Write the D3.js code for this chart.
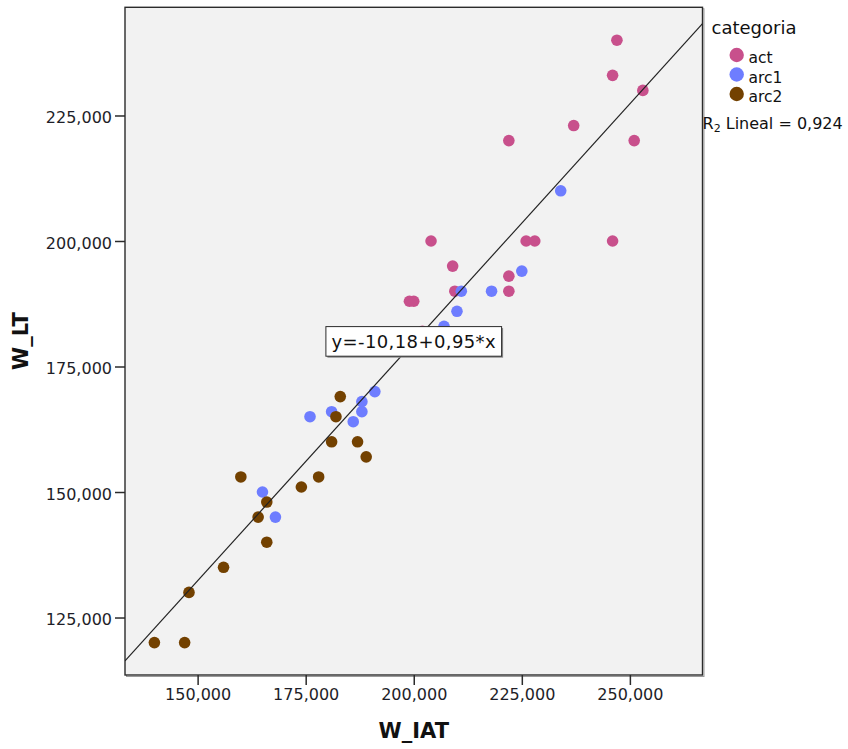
<!DOCTYPE html>
<html>
<head>
<meta charset="utf-8">
<script src="https://cdn.jsdelivr.net/npm/d3@7"></script>
<style>
  html, body { margin: 0; padding: 0; background: #ffffff; }
  svg { display: block; font-family: "DejaVu Sans", Verdana, sans-serif; }
</style>
</head>
<body>
<svg id="chart" width="848" height="749"></svg>
<script>
// ---- data (values in thousands, as shown with decimal comma) ----
const categories = ["act", "arc1", "arc2"];
const categoryColors = ["#c8508c", "#6e7dff", "#734100"];

const actIAT = [247, 246, 253, 237, 222, 251, 204, 226, 228, 246, 209, 222, 209.5, 222, 199, 200, 202];
const actLT  = [240, 233, 230, 223, 220, 220, 200, 200, 200, 200, 195, 193, 190, 190, 188, 188, 182];

const arc1IAT = [234, 225, 211, 218, 210, 207, 191, 188, 188, 181, 176, 186, 165, 168];
const arc1LT  = [210, 194, 190, 190, 186, 183, 170, 168, 166, 166, 165, 164, 150, 145];

const arc2IAT = [183, 182, 181, 187, 189, 160, 178, 174, 166, 164, 166, 156, 148, 140, 147];
const arc2LT  = [169, 165, 160, 160, 157, 153, 153, 151, 148, 145, 140, 135, 130, 120, 120];

const xTicks = [150, 175, 200, 225, 250];
const yTicks = [125, 150, 175, 200, 225];
const xTitle = "W_IAT";
const yTitle = "W_LT";
const legendTitle = "categoria";
const fitEquation = "y=-10,18+0,95*x";
const fitIntercept = -10.18;
const fitSlope = 0.95;
const rSquaredText = ["R", "2", " Lineal = 0,924"];

// ---- build series ----
const seriesIAT = [actIAT, arc1IAT, arc2IAT];
const seriesLT = [actLT, arc1LT, arc2LT];
const points = [];
categories.forEach((c, i) => {
  seriesIAT[i].forEach((v, j) => points.push({cat: c, ci: i, x: v, y: seriesLT[i][j]}));
});

const svg = d3.select("#chart");
const W = 848, H = 749;
const plot = {left: 125, right: 702.5, top: 7.3, bottom: 675};

const x = d3.scaleLinear().domain([133.2, 266.8]).range([plot.left, plot.right]);
const y = d3.scaleLinear().domain([113.55, 246.55]).range([plot.bottom, plot.top]);

const loc = d3.formatLocale({decimal: ",", thousands: ".", grouping: [3], currency: ["", ""]});
const fmt = loc.format(".3f");

// background
svg.append("rect").attr("width", W).attr("height", H).attr("fill", "#ffffff");

// frame shadow
svg.append("rect")
  .attr("x", plot.left + 1.5).attr("y", plot.top + 1.5)
  .attr("width", plot.right - plot.left).attr("height", plot.bottom - plot.top)
  .attr("fill", "none").attr("stroke", "#9a9a9a").attr("stroke-width", 1);

// plot area
svg.append("rect")
  .attr("x", plot.left).attr("y", plot.top)
  .attr("width", plot.right - plot.left).attr("height", plot.bottom - plot.top)
  .attr("fill", "#f2f2f2").attr("stroke", "#2b2b2b").attr("stroke-width", 1.4);

// axes
const xAxis = d3.axisBottom(x).tickValues(xTicks).tickFormat(fmt).tickSize(10).tickSizeOuter(0).tickPadding(4);
const yAxis = d3.axisLeft(y).tickValues(yTicks).tickFormat(fmt).tickSize(10).tickSizeOuter(0).tickPadding(3);

const gx = svg.append("g").attr("transform", `translate(0,${plot.bottom})`).call(xAxis);
const gy = svg.append("g").attr("transform", `translate(${plot.left},0)`).call(yAxis);
[gx, gy].forEach(g => {
  g.select(".domain").remove();
  g.selectAll(".tick line").attr("stroke", "#2b2b2b").attr("stroke-width", 1.5);
  g.selectAll(".tick text").attr("fill", "#1e1e28").style("font-size", "16px")
    .style("font-family", "'DejaVu Sans', Verdana, sans-serif");
});
gy.selectAll(".tick text").attr("dy", "0.45em");

// axis titles
svg.append("text")
  .attr("x", x(200)).attr("y", 738)
  .attr("text-anchor", "middle")
  .style("font-size", "21px").style("font-weight", "bold").attr("fill", "#111")
  .text(xTitle);
svg.append("text")
  .attr("transform", `translate(28,341) rotate(-90)`)
  .attr("text-anchor", "middle")
  .style("font-size", "21px").style("font-weight", "bold").attr("fill", "#111")
  .text(yTitle);

// points
const clip = svg.append("clipPath").attr("id", "plotclip").append("rect")
  .attr("x", plot.left).attr("y", plot.top)
  .attr("width", plot.right - plot.left).attr("height", plot.bottom - plot.top);

const gPts = svg.append("g").attr("clip-path", "url(#plotclip)");
gPts.selectAll("circle").data(points).join("circle")
  .attr("cx", d => x(d.x)).attr("cy", d => y(d.y)).attr("r", 5.8)
  .attr("fill", d => categoryColors[d.ci]);

// fit line
const xd = x.domain();
const lineData = xd.map(v => ({x: v, y: fitIntercept + fitSlope * v}));
svg.append("g").attr("clip-path", "url(#plotclip)")
  .append("path")
  .datum(lineData)
  .attr("d", d3.line().x(d => x(d.x)).y(d => y(d.y)))
  .attr("fill", "none").attr("stroke", "#222").attr("stroke-width", 1.2);

// equation label
const lab = svg.append("g").attr("transform", `translate(${x(200)},${y(180)})`);
const labText = lab.append("text")
  .attr("text-anchor", "middle").attr("y", 7)
  .style("font-size", "18px").attr("fill", "#111")
  .style("letter-spacing", "0.4px")
  .text(fitEquation);
const bb = labText.node().getBBox();
const bw = 175.7, bh = 29.6;
lab.insert("rect", "text")
  .attr("x", -bw / 2 + 1.5).attr("y", -bh / 2 + 1.5).attr("width", bw).attr("height", bh)
  .attr("fill", "#8a8a8a");
lab.insert("rect", "text")
  .attr("x", -bw / 2).attr("y", -bh / 2).attr("width", bw).attr("height", bh)
  .attr("fill", "#ffffff").attr("stroke", "#2b2b2b").attr("stroke-width", 1);

// legend
const lg = svg.append("g");
lg.append("text").attr("x", 711.5).attr("y", 34)
  .style("font-size", "18px").attr("fill", "#111").text(legendTitle);
categories.forEach((c, i) => {
  const cy = 55 + i * 19.5;
  lg.append("circle").attr("cx", 736.7).attr("cy", cy).attr("r", 7.2).attr("fill", categoryColors[i]);
  lg.append("text").attr("x", 748.5).attr("y", cy + 8)
    .style("font-size", "15.5px").attr("fill", "#111").text(c);
});
const rt = lg.append("text").attr("x", 702.5).attr("y", 129.3)
  .style("font-size", "16px").attr("fill", "#111");
rt.append("tspan").text(rSquaredText[0]);
rt.append("tspan").attr("dy", 3).style("font-size", "11px").text(rSquaredText[1]);
rt.append("tspan").attr("dy", -3).text(rSquaredText[2]);
</script>
</body>
</html>
